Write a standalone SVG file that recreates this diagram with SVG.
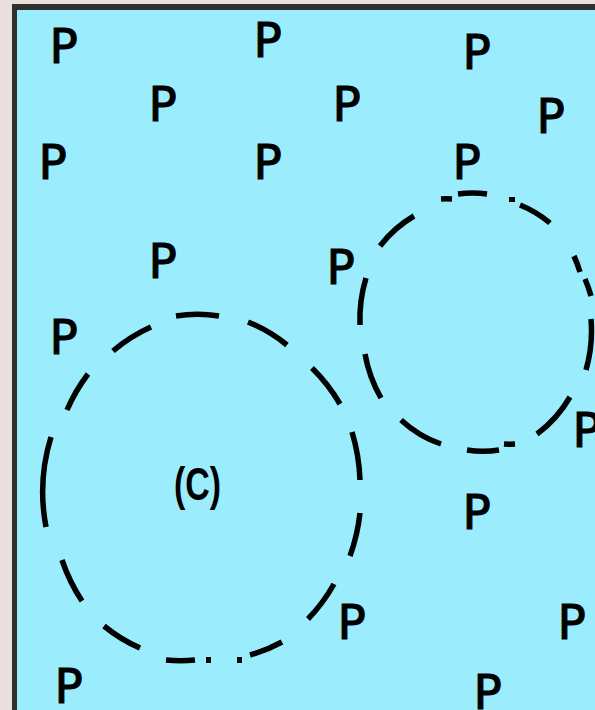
<svg xmlns="http://www.w3.org/2000/svg" width="595" height="710" viewBox="0 0 595 710">
<style>
.p{font-family:"DejaVu Sans Mono","Liberation Mono",monospace;font-weight:normal;font-size:48px;fill:#000;stroke:#000;stroke-width:1;text-anchor:middle}
.lbl{font-family:"Liberation Sans",Arial,sans-serif;font-weight:bold;font-size:46px;fill:#000}
.d{fill:none;stroke:#000;stroke-width:5.5;stroke-linecap:butt}
</style>
<rect x="0" y="0" width="595" height="710" fill="#e9dfdd"/>
<rect x="12" y="4" width="600" height="720" fill="#303030"/>
<rect x="17" y="10" width="600" height="720" fill="#9bedfe"/>
<g id="points">
<text class="p" x="64" y="63">P</text>
<text class="p" x="268" y="57">P</text>
<text class="p" x="477" y="69">P</text>
<text class="p" x="163" y="121">P</text>
<text class="p" x="347" y="121">P</text>
<text class="p" x="551" y="133">P</text>
<text class="p" x="53" y="179">P</text>
<text class="p" x="268" y="179">P</text>
<text class="p" x="467" y="179">P</text>
<text class="p" x="163" y="278">P</text>
<text class="p" x="341" y="284">P</text>
<text class="p" x="64" y="354">P</text>
<text class="p" x="587" y="447">P</text>
<text class="p" x="477" y="529">P</text>
<text class="p" x="352" y="639">P</text>
<text class="p" x="572" y="639">P</text>
<text class="p" x="69" y="703">P</text>
<text class="p" x="488" y="709">P</text>
</g>
<g id="circle-c">
<path class="d" d="M176,316 A157,172 0 0 1 219,316"/>
<path class="d" d="M248,322 A157,172 0 0 1 287,345"/>
<path class="d" d="M312,368 A157,172 0 0 1 340,404"/>
<path class="d" d="M352,432 A157,172 0 0 1 360,480"/>
<path class="d" d="M360,513 A157,172 0 0 1 350,556"/>
<path class="d" d="M334,584 A157,172 0 0 1 308,619"/>
<path class="d" d="M282,642 A157,172 0 0 1 250,655"/>
<rect x="237" y="657" width="5" height="6"/>
<rect x="206" y="657" width="5" height="6"/>
<path class="d" d="M195,660 A157,172 0 0 1 166,660"/>
<path class="d" d="M140,648 A157,172 0 0 1 104,626"/>
<path class="d" d="M82,601 A157,172 0 0 1 62,560"/>
<path class="d" d="M46,527 A157,172 0 0 1 51,437"/>
<path class="d" d="M67,410 A157,172 0 0 1 88,374"/>
<path class="d" d="M113,351 A157,172 0 0 1 151,327"/>
<text class="lbl" x="174" y="500" textLength="47" lengthAdjust="spacingAndGlyphs">(C)</text>
</g>
<g id="circle-2">
<path class="d" d="M458,194 A115,128 0 0 1 487,194"/>
<rect x="509" y="197" width="6" height="5"/>
<path class="d" d="M520,205 A115,128 0 0 1 550,223"/>
<path class="d" d="M574,256 A115,128 0 0 1 580,272"/>
<path class="d" d="M585,279 A115,128 0 0 1 591,296"/>
<path class="d" d="M591,319 A115,128 0 0 1 586,370"/>
<path class="d" d="M570,397 A115,128 0 0 1 537,434"/>
<path class="d" d="M515,444 A115,128 0 0 1 504,444"/>
<path class="d" d="M499,450 A115,128 0 0 1 467,450"/>
<path class="d" d="M441,444 A115,128 0 0 1 401,420"/>
<path class="d" d="M381,398 A115,128 0 0 1 365,354"/>
<path class="d" d="M360,325 A115,128 0 0 1 366,278"/>
<path class="d" d="M380,246 A115,128 0 0 1 414,216"/>
<path class="d" d="M441,199 A115,128 0 0 1 452,199"/>
</g>
</svg>
